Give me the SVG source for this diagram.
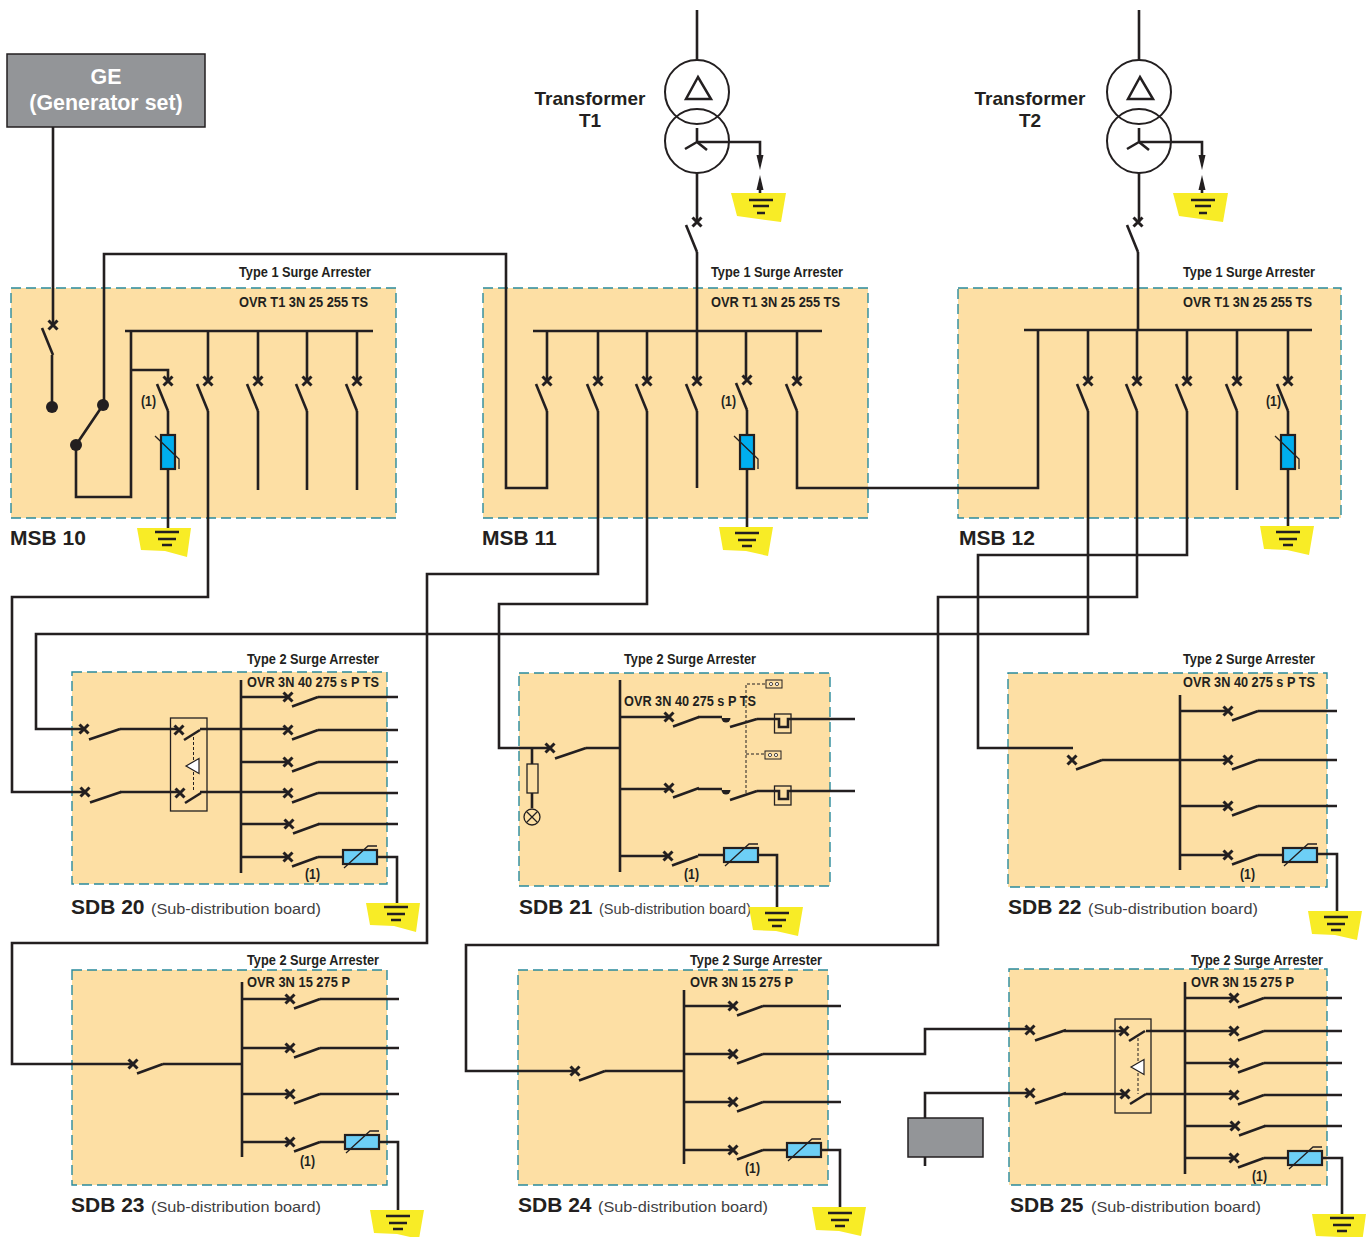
<svg xmlns="http://www.w3.org/2000/svg" width="1372" height="1237" viewBox="0 0 1372 1237">
<style>
text{font-family:"Liberation Sans",Arial,sans-serif;fill:#231f20}
.w{fill:none;stroke:#231f20;stroke-width:2.6}
.x{fill:none;stroke:#231f20;stroke-width:3}
.t{fill:none;stroke:#231f20;stroke-width:1.3}
.th{fill:none;stroke:#231f20;stroke-width:2}
.p{fill:#fddfa4;stroke:#2a8a9c;stroke-width:1.4;stroke-dasharray:10 5}
.k{fill:#231f20;stroke:none}
.h{font-size:15.5px;font-weight:700}
.n{font-size:15.5px;font-weight:700}
.o{font-size:15px;font-weight:700}
.l{font-size:21px;font-weight:700}
.s{font-size:15.5px;fill:#414042}
.m{font-size:21px;font-weight:700}
.tl{font-size:19px;font-weight:700;text-anchor:middle}
.ge{font-size:21.4px;font-weight:700;text-anchor:middle;fill:#fff}
.ms{fill:#00aeef;stroke:#231f20;stroke-width:2.2}
.mh{fill:#6dcff6;stroke:#231f20;stroke-width:2.2}
.d{fill:none;stroke:#231f20;stroke-width:1;stroke-dasharray:3 2}
.y{fill:#f8ec26}
</style>
<defs>
<path id="xx" class="x" d="M-4.500-4.500L4.500 4.500M-4.500 4.500L4.500-4.500"/>
<g id="hb"><use href="#xx"/><path class="w" d="M4 9.500L30 0"/></g>
<g id="hb2"><use href="#xx"/><path class="w" d="M5 10.500L36 0"/></g>
<g id="hb3"><use href="#xx"/><path class="w" d="M5 10L21 0"/></g>
<g id="vb"><use href="#xx"/><path class="w" d="M-11 3L0 30"/></g>
<g id="earth"><polygon class="y" points="-30,-4 24,-4 20,25 -2,19 -26,18"/><path class="w" d="M-12 0H12M-9 7H9M-5 13H5"/></g>
<g id="earth2"><polygon class="y" points="-28,-6 26,-6 21,23 -1,18 -24,17"/><path class="w" d="M-12 0H12M-9 7H9M-5 13H5"/></g>
<g id="earthT"><polygon class="y" points="-30,-7 25,-7 20,22 -24,16"/><path class="w" d="M-12 0H12M-8 6H8M-4 13H4"/></g>
<g id="vmov"><rect class="ms" x="-7" y="0" width="14" height="34"/><path class="t" d="M-13 1L11 24V34"/></g>
<g id="hmov"><rect class="mh" x="0" y="-7" width="34" height="14"/><path class="t" d="M1 11L25 -11H34"/></g>
<g id="tri"><polygon points="-6.500,0 6.500,-7.500 6.500,7.500" fill="#fff" stroke="#231f20" stroke-width="1.200"/></g>
<g id="xfmr"><circle class="th" cx="0" cy="0" r="32"/><circle class="th" cx="0" cy="49" r="32"/><polygon points="1,-15 -11,7 14,7" fill="none" stroke="#231f20" stroke-width="2.500"/><path class="w" d="M0 50V36M0 50L-12 57M0 50L10 58"/><path class="w" d="M0 50H63V66"/><polygon class="k" points="59.500,63 66.500,63 63,78"/><polygon class="k" points="63,83 59.500,98 66.500,98"/><path class="w" d="M63 95V108M0 -82V-32M0 81V130"/></g>
<circle id="dotb" class="k" r="6"/>
<path id="half" class="k" d="M-4.500-1H4.500A4.500 4.500 0 0 1-4.500-1Z"/>
<g id="aux"><rect x="0" y="0" width="16" height="8" fill="#fddfa4" stroke="#231f20" stroke-width="1"/><circle cx="5" cy="4" r="1.600" fill="#fff" stroke="#231f20" stroke-width=".8"/><circle cx="11" cy="4" r="1.600" fill="#fff" stroke="#231f20" stroke-width=".8"/></g>
</defs>

<g id="ge"><rect x="7" y="54" width="198" height="73" fill="#939598" stroke="#231f20" stroke-width="1.500"/><text class="ge" x="106" y="84">GE</text><text class="ge" x="106" y="110">(Generator set)</text></g>

<g id="msb10">
<rect class="p" x="11" y="288" width="385" height="230"/>
<text class="h" x="239" y="277" textLength="132" lengthAdjust="spacingAndGlyphs">Type 1 Surge Arrester</text>
<text class="n" x="239" y="307" textLength="129" lengthAdjust="spacingAndGlyphs">OVR T1 3N 25 255 TS</text>
<text class="m" x="10" y="545">MSB 10</text>
<text class="o" x="141" y="406" textLength="15" lengthAdjust="spacingAndGlyphs">(1)</text>
<path class="w" d="M125 331H373M131 331V497H76V445L103 405M131 370H168V381M168 411V530M208 331V381M258 331V381M258 411V490M307 331V381M307 411V490M357 331V381M357 411V490"/>
<use href="#dotb" x="52" y="407"/><use href="#dotb" x="103" y="405"/><use href="#dotb" x="76" y="445"/>
<use href="#vb" x="168" y="381"/><use href="#vb" x="208" y="381"/><use href="#vb" x="258" y="381"/><use href="#vb" x="307" y="381"/><use href="#vb" x="357" y="381"/>
<use href="#vb" x="53" y="325"/>
<use href="#vmov" x="168" y="435"/><use href="#earth" x="167" y="532"/>
</g>

<g id="msb11">
<rect class="p" x="483" y="288" width="385" height="230"/>
<text class="h" x="711" y="277" textLength="132" lengthAdjust="spacingAndGlyphs">Type 1 Surge Arrester</text>
<text class="n" x="711" y="307" textLength="129" lengthAdjust="spacingAndGlyphs">OVR T1 3N 25 255 TS</text>
<text class="m" x="482" y="545">MSB 11</text>
<text class="o" x="721" y="406" textLength="15" lengthAdjust="spacingAndGlyphs">(1)</text>
<path class="w" d="M533 331H822M547 331V381M598 331V381M647 331V381M697 331V381M697 411V488M746 331V379M747 410V532M797 331V381"/>
<use href="#vb" x="547" y="381"/><use href="#vb" x="598" y="381"/><use href="#vb" x="647" y="381"/><use href="#vb" x="697" y="381"/><use href="#vb" x="747" y="380"/><use href="#vb" x="797" y="381"/>
<use href="#vmov" x="747" y="435"/><use href="#earth2" x="747" y="533"/>
</g>

<g id="msb12">
<rect class="p" x="958" y="288" width="383" height="230"/>
<text class="h" x="1183" y="277" textLength="132" lengthAdjust="spacingAndGlyphs">Type 1 Surge Arrester</text>
<text class="n" x="1183" y="307" textLength="129" lengthAdjust="spacingAndGlyphs">OVR T1 3N 25 255 TS</text>
<text class="m" x="959" y="545">MSB 12</text>
<text class="o" x="1266" y="406" textLength="15" lengthAdjust="spacingAndGlyphs">(1)</text>
<path class="w" d="M1024 330H1312M1088 330V381M1137 330V381M1187 330V381M1237 330V381M1237 411V490M1288 330V381M1288 411V530"/>
<use href="#vb" x="1088" y="381"/><use href="#vb" x="1137" y="381"/><use href="#vb" x="1187" y="381"/><use href="#vb" x="1237" y="381"/><use href="#vb" x="1288" y="381"/>
<use href="#vmov" x="1288" y="435"/><use href="#earth2" x="1288" y="532"/>
</g>

<g id="t1"><text class="tl" x="590" y="105">Transformer</text><text class="tl" x="590" y="127">T1</text>
<use href="#xfmr" x="697" y="92"/><use href="#earthT" x="761" y="200"/><use href="#vb" x="697" y="222"/></g>
<g id="t2"><text class="tl" x="1030" y="105">Transformer</text><text class="tl" x="1030" y="127">T2</text>
<use href="#xfmr" x="1139" y="92"/><use href="#earthT" x="1203" y="200"/><use href="#vb" x="1138" y="222"/></g>

<g id="sdb20">
<rect class="p" x="72" y="672" width="315" height="212"/>
<text class="h" x="247" y="664" textLength="132" lengthAdjust="spacingAndGlyphs">Type 2 Surge Arrester</text>
<text class="n" x="247" y="687" textLength="132" lengthAdjust="spacingAndGlyphs">OVR 3N 40 275 s P TS</text>
<text class="l" x="71" y="914">SDB 20</text><text class="s" x="151" y="914" textLength="170" lengthAdjust="spacingAndGlyphs">(Sub-distribution board)</text>
<text class="o" x="305" y="879" textLength="15" lengthAdjust="spacingAndGlyphs">(1)</text>
<rect class="t" x="170.500" y="718" width="36.500" height="93"/>
<path class="w" d="M241 680V873M241 697H288M241 762H288M241 824H288M241 857H288M318 697H398M120 729H179M200 729H288M318 730H398M318 762H398M120 792H180M200 792H288M318 793H398M318 824H398M318 857H343M377 857H397V905"/>
<path class="d" d="M193.500 737V792"/>
<use href="#tri" x="192.500" y="766"/>
<use href="#hb2" x="84" y="729"/><use href="#hb2" x="85" y="792"/>
<use href="#hb3" x="179" y="730"/><use href="#hb3" x="180" y="793"/>
<use href="#hb" x="288" y="697"/><use href="#hb" x="288" y="730"/><use href="#hb" x="288" y="762"/><use href="#hb" x="288" y="793"/><use href="#hb" x="289" y="824"/><use href="#hb" x="288" y="857"/>
<use href="#hmov" x="343" y="857"/><use href="#earth" x="396" y="907"/>
</g>

<g id="sdb21">
<rect class="p" x="519" y="673" width="311" height="213"/>
<text class="h" x="624" y="664" textLength="132" lengthAdjust="spacingAndGlyphs">Type 2 Surge Arrester</text>
<text class="l" x="519" y="914">SDB 21</text><text class="s" x="599" y="914" textLength="152" lengthAdjust="spacingAndGlyphs">(Sub-distribution board)</text>
<text class="o" x="684" y="879" textLength="15" lengthAdjust="spacingAndGlyphs">(1)</text>
<path class="d" d="M746 793V684H766M746 754H765"/>
<use href="#aux" x="766" y="680"/><use href="#aux" x="765" y="751"/>
<text class="n" x="624" y="706" textLength="132" lengthAdjust="spacingAndGlyphs">OVR 3N 40 275 s P TS</text>
<path class="w" d="M620 680V872M620 717H669M620 789H669M620 856H668M586 748H620M532 748V808M698 717H722M698 789H722M757 719H779V727H788V719H855M757 791H779V799H788V791H855M698 855H724M758 855H777V912"/>
<rect class="t" x="527" y="764" width="11" height="29" style="fill:#fddfa4"/>
<g class="t"><circle cx="532" cy="817" r="8"/><path d="M526.500 811.500L537.500 822.500M526.500 822.500L537.500 811.500"/></g>
<rect class="t" x="774.500" y="714" width="16.500" height="19"/><rect class="t" x="774.500" y="786" width="16.500" height="19"/>
<use href="#hb2" x="550" y="748"/><use href="#hb" x="669" y="717"/><use href="#hb" x="669" y="788"/><use href="#hb" x="668" y="856"/>
<path class="w" d="M730 727L757 719M730 800L757 791"/>
<use href="#half" x="726" y="719"/><use href="#half" x="726" y="791"/>
<use href="#hmov" x="724" y="855"/><use href="#earth2" x="777" y="913"/>
</g>

<g id="sdb22">
<rect class="p" x="1008" y="673" width="319" height="214"/>
<text class="h" x="1183" y="664" textLength="132" lengthAdjust="spacingAndGlyphs">Type 2 Surge Arrester</text>
<text class="n" x="1183" y="687" textLength="132" lengthAdjust="spacingAndGlyphs">OVR 3N 40 275 s P TS</text>
<text class="l" x="1008" y="914">SDB 22</text><text class="s" x="1088" y="914" textLength="170" lengthAdjust="spacingAndGlyphs">(Sub-distribution board)</text>
<text class="o" x="1240" y="879" textLength="15" lengthAdjust="spacingAndGlyphs">(1)</text>
<path class="w" d="M1180 695V870M1180 711H1228M1180 760H1228M1180 806H1228M1180 855H1228M1102 760H1180M1258 711H1337M1258 760H1337M1258 806H1337M1258 855H1283M1317 854H1337V916"/>
<use href="#hb" x="1072" y="760"/><use href="#hb" x="1228" y="711"/><use href="#hb" x="1228" y="760"/><use href="#hb" x="1228" y="806"/><use href="#hb" x="1228" y="855"/>
<use href="#hmov" x="1283" y="855"/><use href="#earth2" x="1336" y="917"/>
</g>

<g id="sdb23">
<rect class="p" x="72" y="970" width="315" height="215"/>
<text class="h" x="247" y="965" textLength="132" lengthAdjust="spacingAndGlyphs">Type 2 Surge Arrester</text>
<text class="n" x="247" y="987" textLength="103" lengthAdjust="spacingAndGlyphs">OVR 3N 15 275 P</text>
<text class="l" x="71" y="1212">SDB 23</text><text class="s" x="151" y="1212" textLength="170" lengthAdjust="spacingAndGlyphs">(Sub-distribution board)</text>
<text class="o" x="300" y="1166" textLength="15" lengthAdjust="spacingAndGlyphs">(1)</text>
<path class="w" d="M242 982V1157M242 999H290M242 1048H290M242 1094H290M242 1142H290M163 1064H242M320 999H399M320 1048H399M320 1094H399M320 1142H345M379 1142H398V1216"/>
<use href="#hb" x="133" y="1064"/><use href="#hb" x="290" y="999"/><use href="#hb" x="290" y="1048"/><use href="#hb" x="290" y="1094"/><use href="#hb" x="290" y="1142"/>
<use href="#hmov" x="345" y="1142"/><use href="#earth2" x="398" y="1216"/>
</g>

<g id="sdb24">
<rect class="p" x="518" y="970" width="310" height="215"/>
<text class="h" x="690" y="965" textLength="132" lengthAdjust="spacingAndGlyphs">Type 2 Surge Arrester</text>
<text class="n" x="690" y="987" textLength="103" lengthAdjust="spacingAndGlyphs">OVR 3N 15 275 P</text>
<text class="l" x="518" y="1212">SDB 24</text><text class="s" x="598" y="1212" textLength="170" lengthAdjust="spacingAndGlyphs">(Sub-distribution board)</text>
<text class="o" x="745" y="1173" textLength="15" lengthAdjust="spacingAndGlyphs">(1)</text>
<path class="w" d="M684 990V1164M684 1006H733M684 1054H733M684 1102H733M684 1150H733M605 1071H684M763 1006H841M763 1102H841M763 1150H787M821 1150H840V1213"/>
<use href="#hb" x="575" y="1071"/><use href="#hb" x="733" y="1006"/><use href="#hb" x="733" y="1054"/><use href="#hb" x="733" y="1102"/><use href="#hb" x="733" y="1150"/>
<use href="#hmov" x="787" y="1150"/><use href="#earth2" x="840" y="1213"/>
</g>

<g id="sdb25">
<rect class="p" x="1009" y="969" width="318" height="216"/>
<text class="h" x="1191" y="965" textLength="132" lengthAdjust="spacingAndGlyphs">Type 2 Surge Arrester</text>
<text class="n" x="1191" y="987" textLength="103" lengthAdjust="spacingAndGlyphs">OVR 3N 15 275 P</text>
<text class="l" x="1010" y="1212">SDB 25</text><text class="s" x="1091" y="1212" textLength="170" lengthAdjust="spacingAndGlyphs">(Sub-distribution board)</text>
<text class="o" x="1252" y="1181" textLength="15" lengthAdjust="spacingAndGlyphs">(1)</text>
<rect class="t" x="1115" y="1019" width="36" height="94"/>
<path class="w" d="M1185 982V1174M1185 998H1234M1185 1063H1234M1185 1126H1234M1185 1158H1234M1064 1031H1124M1146 1031H1234M1264 998H1342M1264 1031H1342M1264 1063H1342M1064 1094H1125M1146 1094H1234M1264 1095H1342M1264 1126H1342M1264 1158H1288M1322 1158H1342V1218"/>
<path class="d" d="M1138 1038V1094"/>
<use href="#tri" x="1137.500" y="1067"/>
<use href="#hb2" x="1030" y="1030"/><use href="#hb2" x="1030" y="1093"/><use href="#hb3" x="1124" y="1031"/><use href="#hb3" x="1125" y="1094"/>
<use href="#hb" x="1234" y="998"/><use href="#hb" x="1234" y="1031"/><use href="#hb" x="1234" y="1063"/><use href="#hb" x="1234" y="1095"/><use href="#hb" x="1235" y="1126"/><use href="#hb" x="1234" y="1158"/>
<use href="#hmov" x="1288" y="1158"/><use href="#earth" x="1342" y="1218"/>
</g>

<g id="ge2"><rect x="908" y="1118" width="75" height="39" fill="#939598" stroke="#231f20" stroke-width="1.500"/></g>

<g id="connectors">
<path class="w" d="M53 127V325M52 355V407"/>
<path class="w" d="M547 411V488H506V254H104V405"/>
<path class="w" d="M208 411V597H12V792H85"/>
<path class="w" d="M598 411V574H427V943H12V1064H133"/>
<path class="w" d="M647 411V604H499V748H550"/>
<path class="w" d="M697 252V331"/>
<path class="w" d="M797 411V488H1038V330"/>
<path class="w" d="M1138 252V330"/>
<path class="w" d="M1088 411V634H36V729H84"/>
<path class="w" d="M1137 411V597H938V945H466V1071H575"/>
<path class="w" d="M1187 411V555H978V748H1073"/>
<path class="w" d="M763 1054H925V1029H1030"/>
<path class="w" d="M925 1118V1093H1030M925 1157V1166"/>
</g>
</svg>
